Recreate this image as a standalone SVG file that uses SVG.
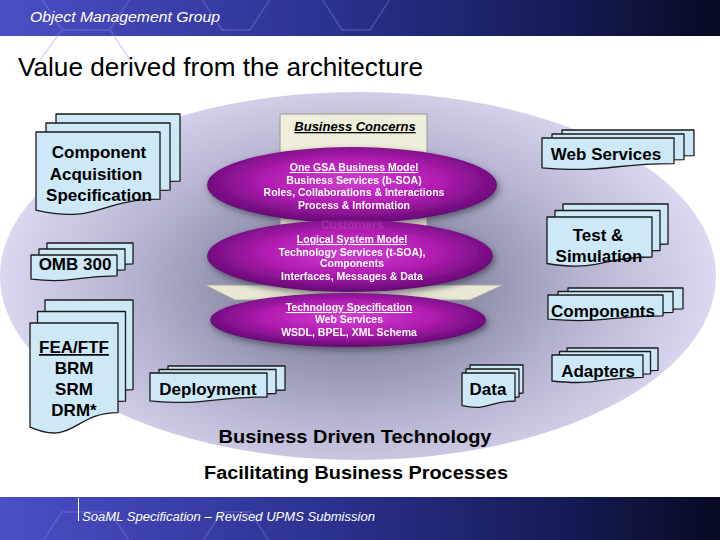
<svg xmlns="http://www.w3.org/2000/svg" width="720" height="540" viewBox="0 0 720 540">
<defs>
<linearGradient id="bar" x1="0" y1="0" x2="1" y2="0">
<stop offset="0" stop-color="#4c4ec6"/>
<stop offset="0.45" stop-color="#2c3290"/>
<stop offset="0.8" stop-color="#141a52"/>
<stop offset="1" stop-color="#070a22"/>
</linearGradient>
<radialGradient id="bg" gradientUnits="userSpaceOnUse" cx="355" cy="285" r="360" gradientTransform="translate(355 285) scale(1 0.6) translate(-355 -285)">
<stop offset="0" stop-color="#666680"/>
<stop offset="0.3" stop-color="#8c8ca8"/>
<stop offset="0.65" stop-color="#b8b6d2"/>
<stop offset="1" stop-color="#dcd8f2"/>
</radialGradient>
<radialGradient id="purp" cx="0.5" cy="0.45" r="0.55">
<stop offset="0" stop-color="#d240d2"/>
<stop offset="0.55" stop-color="#b01cb0"/>
<stop offset="1" stop-color="#640a74"/>
</radialGradient>
<filter id="sh" x="-20%" y="-30%" width="140%" height="160%">
<feGaussianBlur in="SourceAlpha" stdDeviation="3"/>
<feOffset dx="2" dy="3" result="b"/>
<feFlood flood-color="#303040" flood-opacity="0.6"/>
<feComposite in2="b" operator="in"/>
<feMerge><feMergeNode/><feMergeNode in="SourceGraphic"/></feMerge>
</filter>
<style>
.pg{fill:#cde9f8;stroke:#1a1a1a;stroke-width:1.3;stroke-linejoin:round}
.lb{font-family:"Liberation Sans",Arial,sans-serif;font-weight:bold;font-size:17px;fill:#000;text-anchor:middle}
.el{fill:url(#purp)}
.et{font-family:"Liberation Sans",Arial,sans-serif;font-weight:bold;font-size:10.5px;fill:#fff;text-anchor:middle}
.bt{font-family:"Liberation Sans",Arial,sans-serif;font-weight:bold;font-size:18px;fill:#000;text-anchor:middle}
.hx{fill:none;stroke:#8a8ee8;stroke-opacity:0.35;stroke-width:1.5}
</style>
</defs>
<rect width="720" height="540" fill="#ffffff"/>
<g id="header">
<rect x="0" y="0" width="720" height="36" fill="url(#bar)"/>
<path class="hx" d="M40 -4L62 30H110L132 -4M110 30L130 60M62 30L40 60M200 -4L222 30H250L272 -4M320 -4L342 30H370L392 -4"/>
<text x="30" y="22" font-family="Liberation Sans,Arial,sans-serif" font-style="italic" font-size="14" fill="#ffffff" textLength="190" lengthAdjust="spacingAndGlyphs">Object Management Group</text>
</g>
<text id="title" x="18" y="76" font-family="Liberation Sans,Arial,sans-serif" font-size="25" fill="#000" textLength="405" lengthAdjust="spacingAndGlyphs">Value derived from the architecture</text>
<ellipse id="background" cx="358" cy="276" rx="358" ry="184" fill="url(#bg)"/>
<g id="core">
<rect x="280" y="114" width="147" height="186" fill="#efeedb" stroke="#9a9a90" stroke-width="1"/>
<text x="355" y="131" font-family="Liberation Sans,Arial,sans-serif" font-weight="bold" font-style="italic" font-size="13" fill="#000" text-anchor="middle" text-decoration="underline">Business Concerns</text>
<polygon points="205,285 503,285 470,300 235,300" fill="#e8e8d4" stroke="#a0a098" stroke-width="0.8"/>
</g>
<g id="ellipse-business" filter="url(#sh)">
<ellipse class="el" cx="352" cy="185" rx="145" ry="38"/>
<text class="et" x="354" y="171" text-decoration="underline">One GSA Business Model</text>
<text class="et" x="354" y="184">Business Services (b-SOA)</text>
<text class="et" x="354" y="196">Roles, Collaborations &amp; Interactions</text>
<text class="et" x="354" y="209">Process &amp; Information</text>
</g>
<g id="ellipse-logical" filter="url(#sh)">
<ellipse class="el" cx="350" cy="256" rx="143" ry="36"/>
<text x="352" y="229" font-family="Liberation Sans,Arial,sans-serif" font-weight="bold" font-size="12" fill="#e8c0e8" fill-opacity="0.15" text-anchor="middle">Customers</text>
<text class="et" x="352" y="243" text-decoration="underline">Logical System Model</text>
<text class="et" x="352" y="256">Technology Services (t-SOA),</text>
<text class="et" x="352" y="267">Components</text>
<text class="et" x="352" y="280">Interfaces, Messages &amp; Data</text>
</g>
<g id="ellipse-tech" filter="url(#sh)">
<ellipse class="el" cx="348" cy="320" rx="138" ry="27"/>
<text class="et" x="349" y="311" text-decoration="underline">Technology Specification</text>
<text class="et" x="349" y="323">Web Services</text>
<text class="et" x="349" y="336">WSDL, BPEL, XML Schema</text>
</g>
<g id="component-acquisition">
<path class="pg" d="M56 114H180V181.2C118 181.2 118 206.4 56 192.1Z"/>
<path class="pg" d="M46 123H170V190.2C108 190.2 108 215.4 46 201.1Z"/>
<path class="pg" d="M36 132H160V199.2C98 199.2 98 224.4 36 210.1Z"/>
<text class="lb" x="99" y="158">Component</text>
<text class="lb" x="96" y="180">Acquisition</text>
<text class="lb" x="99" y="201">Specification</text>
</g>
<g id="web-services">
<path class="pg" d="M562 130H694V155.6C628 155.6 628 165.2 562 159.8Z"/>
<path class="pg" d="M552 134H684V159.6C618 159.6 618 169.2 552 163.8Z"/>
<path class="pg" d="M542 138H674V163.6C608 163.6 608 173.2 542 167.8Z"/>
<text class="lb" x="606" y="159.5">Web Services</text>
</g>
<g id="test-simulation">
<path class="pg" d="M563 204H668V244C615.5 244 615.5 259 563 250.5Z"/>
<path class="pg" d="M555 210.5H660V250.5C607.5 250.5 607.5 265.5 555 257Z"/>
<path class="pg" d="M547 217H652V257C599.5 257 599.5 272 547 263.5Z"/>
<text class="lb" x="598" y="241">Test &amp;</text>
<text class="lb" x="599" y="262">Simulation</text>
</g>
<g id="omb-300">
<path class="pg" d="M47 243H133V263.8C90 263.8 90 271.6 47 267.2Z"/>
<path class="pg" d="M39 249H125V269.8C82 269.8 82 277.6 39 273.2Z"/>
<path class="pg" d="M31 255H117V275.8C74 275.8 74 283.6 31 279.2Z"/>
<text class="lb" x="75" y="270">OMB 300</text>
</g>
<g id="fea-ftf">
<path class="pg" d="M45 300H133V389.6C89 389.6 89 423.2 45 404.2Z"/>
<path class="pg" d="M37.5 311.5H125.5V401.1C81.5 401.1 81.5 434.7 37.5 415.7Z"/>
<path class="pg" d="M30 323H118V412.6C74 412.6 74 446.2 30 427.2Z"/>
<text class="lb" x="74" y="353" text-decoration="underline">FEA/FTF</text>
<text class="lb" x="74" y="374">BRM</text>
<text class="lb" x="74" y="395">SRM</text>
<text class="lb" x="74" y="416">DRM*</text>
</g>
<g id="components">
<path class="pg" d="M568 288H683V308.8C625.5 308.8 625.5 316.6 568 312.2Z"/>
<path class="pg" d="M558 291.5H673V312.3C615.5 312.3 615.5 320.1 558 315.7Z"/>
<path class="pg" d="M548 295H663V315.8C605.5 315.8 605.5 323.6 548 319.2Z"/>
<text class="lb" x="603" y="317">Components</text>
</g>
<g id="adapters">
<path class="pg" d="M567 348H658V370.4C612.5 370.4 612.5 378.8 567 374Z"/>
<path class="pg" d="M559.5 351.5H650.5V373.9C605 373.9 605 382.3 559.5 377.5Z"/>
<path class="pg" d="M552 355H643V377.4C597.5 377.4 597.5 385.8 552 381Z"/>
<text class="lb" x="598" y="377">Adapters</text>
</g>
<g id="deployment">
<path class="pg" d="M168 366H285V390C226.5 390 226.5 399 168 393.9Z"/>
<path class="pg" d="M159 369.5H276V393.5C217.5 393.5 217.5 402.5 159 397.4Z"/>
<path class="pg" d="M150 373H267V397C208.5 397 208.5 406 150 400.9Z"/>
<text class="lb" x="208" y="395">Deployment</text>
</g>
<g id="data">
<path class="pg" d="M470 365H523V393C496.5 393 496.5 403.5 470 397.6Z"/>
<path class="pg" d="M466 369H519V397C492.5 397 492.5 407.5 466 401.6Z"/>
<path class="pg" d="M462 373H515V401C488.5 401 488.5 411.5 462 405.6Z"/>
<text class="lb" x="488" y="395">Data</text>
</g>
<g id="connectors"/>
<text id="bdt" class="bt" x="355" y="443" textLength="273" lengthAdjust="spacingAndGlyphs">Business Driven Technology</text>
<text id="fbp" class="bt" x="356" y="479" textLength="304" lengthAdjust="spacingAndGlyphs">Facilitating Business Processes</text>
<g id="footer">
<rect x="0" y="497" width="720" height="43" fill="url(#bar)"/>
<path class="hx" d="M40 545L62 512H110L132 545M200 545L222 512H250L272 545"/>
<line x1="78.5" y1="498" x2="78.5" y2="521" stroke="#ffffff" stroke-width="1"/>
<text x="82" y="521" font-family="Liberation Sans,Arial,sans-serif" font-style="italic" font-size="12" fill="#ffffff" textLength="293" lengthAdjust="spacingAndGlyphs">SoaML Specification – Revised UPMS Submission</text>
</g>
</svg>
